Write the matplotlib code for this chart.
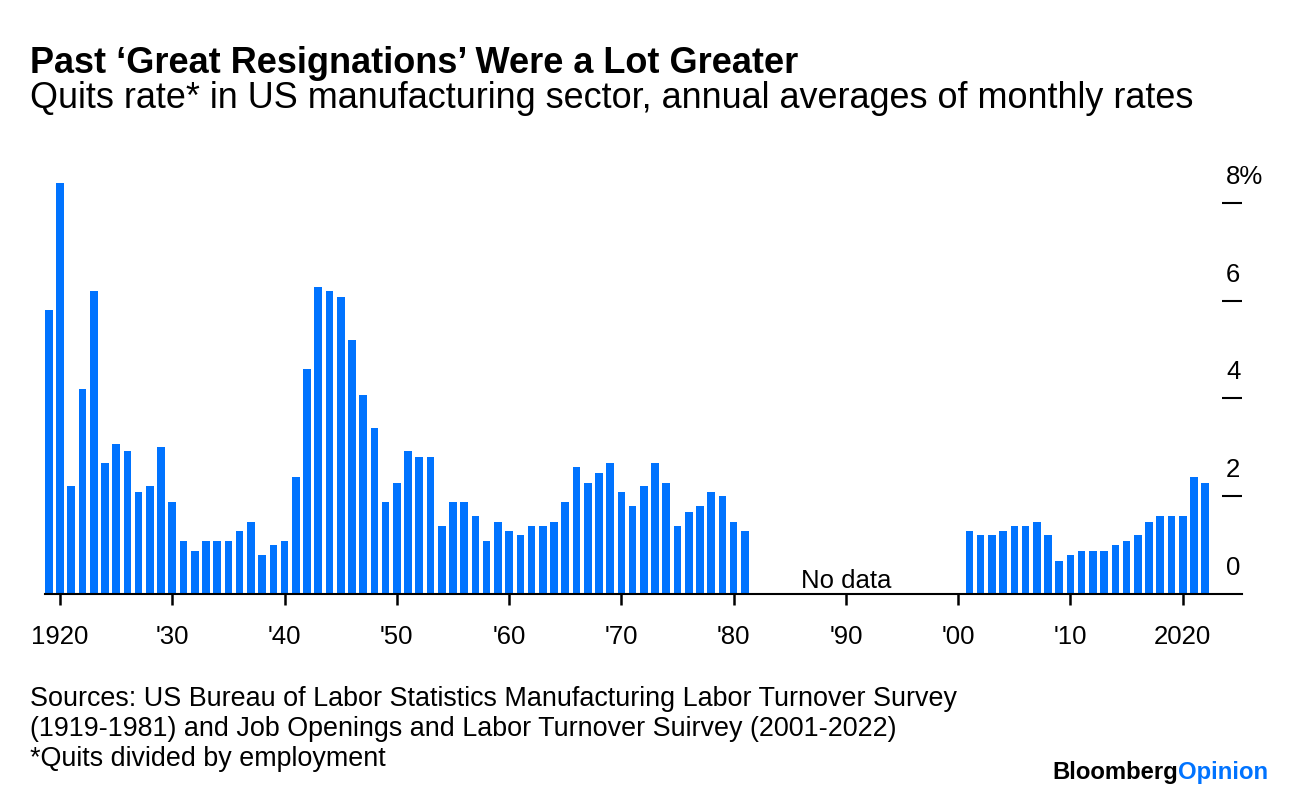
import matplotlib
matplotlib.use("Agg")
import matplotlib.pyplot as plt
import matplotlib.transforms as mtransforms
import numpy as np

plt.rcParams['font.family'] = ['Liberation Sans', 'DejaVu Sans']

# annual averages of monthly quits rates
years_early = list(range(1919, 1982))
quits_early = [5.80, 8.40, 2.20, 4.20, 6.20, 2.68, 3.07, 2.92, 2.08, 2.20,
               3.00, 1.88, 1.08, 0.88, 1.08, 1.08, 1.08, 1.29, 1.48, 0.80,
               1.00, 1.08, 2.40, 4.60, 6.28, 6.20, 6.08, 5.20, 4.07, 3.40,
               1.88, 2.28, 2.92, 2.80, 2.80, 1.40, 1.88, 1.88, 1.60, 1.08,
               1.48, 1.29, 1.20, 1.40, 1.40, 1.48, 1.88, 2.60, 2.28, 2.48,
               2.68, 2.08, 1.80, 2.20, 2.68, 2.28, 1.40, 1.68, 1.80, 2.08,
               2.00, 1.48, 1.29]
years_late = list(range(2001, 2023))
quits_late = [1.29, 1.20, 1.20, 1.29, 1.40, 1.40, 1.48, 1.20, 0.68, 0.80,
              0.88, 0.88, 0.88, 1.00, 1.08, 1.20, 1.48, 1.60, 1.60, 1.60,
              2.40, 2.28]

xtick_years = [1920, 1930, 1940, 1950, 1960, 1970, 1980, 1990, 2000, 2010, 2020]
xtick_labels = ["1920", "'30", "'40", "'50", "'60", "'70", "'80", "'90", "'00", "'10", "2020"]
ytick_vals = [0, 2, 4, 6, 8]
ytick_labels = ["0", "2", "4", "6", "8%"]

source_lines = ["Sources: US Bureau of Labor Statistics Manufacturing Labor Turnover Survey",
                "(1919-1981) and Job Openings and Labor Turnover Suirvey (2001-2022)",
                "*Quits divided by employment"]

BLUE = "#0073ff"

fig = plt.figure(figsize=(12.96, 7.98), dpi=100)
ax = fig.add_axes([45 / 1296, 1 - 594 / 798, (1242 - 45) / 1296, (594 - 168.6) / 798])

ax.bar(years_early, quits_early, width=0.68, color=BLUE, zorder=2)
ax.bar(years_late, quits_late, width=0.68, color=BLUE, zorder=2)

ax.set_xlim(1918.66, 2025.28)
ax.set_ylim(0, 8.7)

for s in ["top", "right", "left"]:
    ax.spines[s].set_visible(False)
ax.spines["bottom"].set_linewidth(1.5)
ax.spines["bottom"].set_zorder(3)

ax.set_xticks(xtick_years)
ax.set_xticklabels(xtick_labels, fontsize=18.5)
ax.tick_params(axis="x", length=8, width=1.8, pad=14, colors="black")

# y ticks: short dashes on the right, labels sit above them
ax.yaxis.tick_right()
ax.set_yticks(ytick_vals[1:])
ax.set_yticklabels([])
ax.tick_params(axis="y", direction="in", length=14.5, width=1.5, colors="black")
lab_tr = mtransforms.offset_copy(ax.get_yaxis_transform(), fig=fig, y=19, units="dots")
for v, lab in zip(ytick_vals, ytick_labels):
    ax.text(0.9866, v, lab, transform=lab_tr, ha="left", va="baseline", fontsize=18.5)

ax.text(1990, 0, "No data", transform=mtransforms.offset_copy(ax.transData, fig=fig, y=6, units="dots"),
        ha="center", va="baseline", fontsize=18.5)

fig.text(30 / 1296, 1 - 73 / 798, "Past \u2018Great Resignations\u2019 Were a Lot Greater",
         fontsize=26, fontweight="bold", ha="left", va="baseline")
fig.text(30 / 1296, 1 - 108 / 798,
         "Quits rate* in US manufacturing sector, annual averages of monthly rates",
         fontsize=25.9, ha="left", va="baseline")

for i, line in enumerate(source_lines):
    fig.text(30 / 1296, 1 - (706 + 30 * i) / 798, line,
             fontsize=19.4, ha="left", va="baseline")

t1 = fig.text(1052 / 1296, 1 - 779 / 798, "Bloomberg", fontsize=17.2, fontweight="bold",
              ha="left", va="baseline")
ax.annotate("Opinion", xy=(1, 0), xycoords=t1, ha="left", va="bottom",
            fontsize=17.2, fontweight="bold", color=BLUE)

fig.savefig("out.png", dpi=100, facecolor="white")
